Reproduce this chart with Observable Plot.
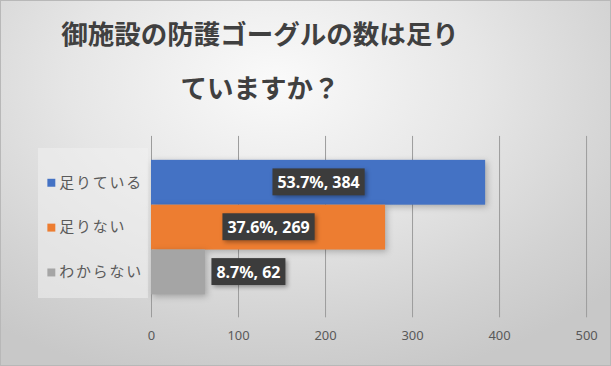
<!DOCTYPE html>
<html>
<head>
<meta charset="utf-8">
<script src="https://cdn.jsdelivr.net/npm/d3@7"></script>
<script src="https://cdn.jsdelivr.net/npm/@observablehq/plot@0.6"></script>
<style>
  html, body { margin: 0; padding: 0; }
  #chart {
    position: relative; width: 611px; height: 366px; overflow: hidden; box-sizing: border-box;
    border: 1px solid #b8b8b8;
    background: radial-gradient(ellipse 75% 85% at 45% 22%, #fafafa 0%, #e6e6e6 45%, #d2d2d2 80%, #c8c8c8 100%);
    font-family: "Noto Sans CJK JP", "Noto Sans", sans-serif;
  }
  #title {
    position: absolute; left: 0; top: 0; width: 518px; text-align: center;
    font-size: 26.5px; font-weight: bold; color: #404040; line-height: 54px; padding-top: 5px;
  }
  #legendbox {
    position: absolute; left: 37px; top: 147px; width: 110px; height: 150px;
    background: rgba(240,240,240,0.55);
  }
  #plot { position: absolute; left: 0; top: 110px; }
</style>
</head>
<body>
<div id="chart">
  <div id="title">御施設の防護ゴーグルの数は足り<br>ていますか？</div>
  <div id="legendbox"></div>
  <div id="plot"></div>
</div>
<script>
const categories = ["足りている", "足りない", "わからない"];
const counts = [384, 269, 62];
const percents = [53.7, 37.6, 8.7];
const barColors = ["#4472C4", "#ED7D31", "#A5A5A5"];
const xTicks = [0, 100, 200, 300, 400, 500];

const data = categories.map((c, i) => ({
  cat: c, count: counts[i], pct: percents[i], color: barColors[i],
  label: `${percents[i].toFixed(1)}%, ${counts[i]}`
}));
const inside = data.filter(d => d.count >= 100);
const outside = data.filter(d => d.count < 100);

const fontNum = "'Noto Sans', 'Noto Sans CJK JP', sans-serif";

const chart = Plot.plot({
  width: 611,
  height: 256,
  marginTop: 25,
  marginBottom: 49,
  marginLeft: 150.5,
  marginRight: 24,
  style: { background: "transparent", overflow: "visible", fontFamily: fontNum },
  x: { domain: [0, 500], ticks: xTicks, label: null },
  y: { domain: categories, paddingInner: 0, paddingOuter: 0.49, axis: null },
  color: { type: "identity" },
  marks: [
    Plot.gridX(xTicks, { stroke: "#9c9c9c", strokeOpacity: 1, strokeWidth: 1 }),
    Plot.barX(data, { x: "count", y: "cat", fill: "color", inset: 0 }),
    Plot.axisX({ ticks: xTicks, tickSize: 0, tickPadding: 13, fontSize: 13, fill: "#595959", label: null, tickFormat: d => String(d) }),
    Plot.dot(data, { x: () => 0, y: "cat", fill: "color", symbol: "square", r: 4.5, dx: -100.5, stroke: null }),
    Plot.text(data, { x: () => 0, y: "cat", text: "cat", textAnchor: "start", dx: -92.5, fontSize: 15, fill: "#5a5a5a", fontFamily: "'Noto Sans CJK JP', sans-serif" }),
    Plot.text(inside, { x: d => d.count / 2, y: "cat", text: "label", fill: "white", fontSize: 16, fontWeight: "bold" }),
    Plot.text(outside, { x: "count", y: "cat", text: "label", textAnchor: "start", dx: 11, fill: "white", fontSize: 16, fontWeight: "bold" })
  ]
});
document.getElementById("plot").appendChild(chart);

const labelSet = new Set(data.map(d => d.label));
const catSet = new Set(categories);
const colorSet = new Set(barColors.map(c => c.toLowerCase()));
const texts = Array.from(chart.querySelectorAll("text"));

// letter spacing for category labels
texts.filter(t => catSet.has(t.textContent)).forEach(t => t.setAttribute("letter-spacing", "1.8"));
// bar shadow
Array.from(chart.querySelectorAll("rect")).filter(r => colorSet.has((r.getAttribute("fill") || "").toLowerCase()))
  .forEach(r => r.style.filter = "drop-shadow(2px 2px 3px rgba(0,0,0,0.25))");
// label boxes
const ns = "http://www.w3.org/2000/svg";
texts.filter(t => labelSet.has(t.textContent)).forEach(t => {
  const b = t.getBBox();
  const r = document.createElementNS(ns, "rect");
  const h = 27, pad = 5;
  r.setAttribute("x", b.x - pad);
  r.setAttribute("y", b.y + b.height / 2 - h / 2);
  r.setAttribute("width", b.width + 2 * pad);
  r.setAttribute("height", h);
  r.setAttribute("fill", "#3c3c3c");
  r.setAttribute("stroke", "none");
  r.style.filter = "drop-shadow(2px 2px 2px rgba(0,0,0,0.35))";
  const tr = t.getAttribute("transform");
  if (tr) r.setAttribute("transform", tr);
  t.parentNode.insertBefore(r, t);
});
</script>
</body>
</html>
